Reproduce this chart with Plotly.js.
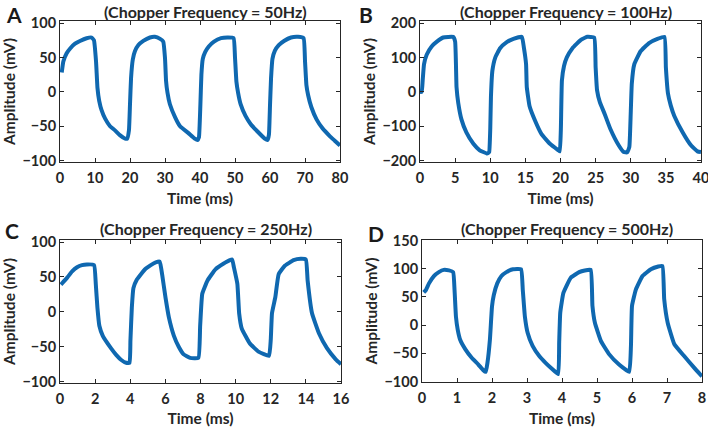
<!DOCTYPE html>
<html>
<head>
<meta charset="utf-8">
<script src="https://cdn.plot.ly/plotly-3.0.1.min.js"></script>
<style>html,body{margin:0;padding:0;background:#fff;}#chart{width:708px;height:427px;}</style>
</head>
<body>
<div id="chart"></div>
<script>
// Panel A: chopper frequency 50 Hz
const tA = [0.5,0.95,1.9,2.9,4.3,5.7,7.6,9.0,9.7,10.3,10.7,11.2,11.9,12.9,14.3,15.7,17.1,18.6,19.2,19.7,20.0,20.3,20.8,21.4,22.4,23.8,25.7,27.1,28.6,29.5,30.0,30.3,30.7,31.4,32.9,34.3,36.7,38.5,39.3,39.7,40.1,40.4,40.8,41.5,42.5,44.0,46.0,48.0,49.6,50.0,50.4,50.9,51.6,53.0,54.5,56.5,58.5,59.3,59.7,60.0,60.3,60.7,61.4,62.5,64.0,66.0,68.0,69.6,70.0,70.4,70.9,71.8,73.3,75.0,77.0,78.5,80.0];
const vA = [28,44,56,63,70,74,78,79,75,44,6,-13,-27,-39,-50,-56,-63,-68,-68,-56,-18,20,47,59,68,74,79,80,77,73,49,16,-1,-18,-37,-50,-60,-68,-70,-66,-20,25,48,58,66,73,78,79,78,50,15,-2,-18,-35,-47,-58,-68,-70,-62,-20,20,48,60,68,74,79,80,78,45,10,-5,-22,-40,-53,-64,-71,-78];
// Panel B: chopper frequency 100 Hz
const tB = [0,0.24,0.38,0.57,0.95,1.66,2.4,3.3,4.7,5.0,5.2,5.45,5.9,6.6,7.6,8.5,9.5,9.7,9.85,10.0,10.1,10.3,10.7,11.4,12.3,13.3,14.5,14.8,15.1,15.2,15.6,16.4,17.3,18.5,19.7,19.9,20.05,20.2,20.5,20.9,21.7,22.9,23.8,24.8,25.0,25.2,25.6,26.3,27.1,28.3,29.0,29.5,29.8,30.0,30.15,30.5,31.4,32.6,33.8,34.8,35.0,35.3,35.7,36.2,37.4,38.6,39.5,40.0];
const vB = [0,0,33,80,108,132,146,158,160,146,14,-33,-80,-118,-151,-170,-179,-178,-175,-108,-14,61,99,127,144,154,160,127,80,14,-42,-85,-123,-151,-170,-173,-110,33,75,100,127,151,160,158,71,5,-30,-65,-108,-156,-175,-176,-160,-60,24,80,118,142,154,160,71,-5,-40,-70,-118,-156,-173,-175];
// Panel C: chopper frequency 250 Hz
const tC = [0.05,0.41,0.69,0.97,1.25,1.53,1.94,2.04,2.13,2.24,2.43,2.65,2.93,3.21,3.49,3.77,3.96,4.01,4.09,4.18,4.37,4.61,4.89,5.17,5.45,5.68,5.82,6.01,6.2,6.48,6.76,7.04,7.41,7.88,7.98,8.1,8.4,8.85,9.3,9.8,9.9,10.1,10.2,10.35,10.8,11.3,11.9,12.0,12.07,12.26,12.45,12.8,13.3,13.7,14.0,14.1,14.35,14.75,15.2,15.7,16.0];
const vC = [39,49,58,64,67,68,67,39,6,-20,-34,-43,-53,-62,-69,-73,-73,-41,6,34,46,54,62,67,71,72,53,20,-8,-34,-50,-61,-66,-66,-20,26,45,61,69,75,64,40,-2,-24,-45,-57,-63,-40,-2,21,54,66,74,76,75,45,-2,-31,-52,-68,-75];
// Panel D: chopper frequency 500 Hz
const tD = [0.05,0.11,0.2,0.34,0.48,0.62,0.77,0.89,0.93,0.97,1.02,1.09,1.24,1.42,1.61,1.75,1.82,1.87,1.94,2.0,2.05,2.15,2.27,2.41,2.6,2.83,2.88,2.94,3.02,3.16,3.35,3.53,3.72,3.89,3.92,3.95,4.04,4.25,4.49,4.65,4.82,4.87,4.94,5.11,5.35,5.63,5.92,5.97,6.0,6.11,6.3,6.54,6.75,6.87,6.92,7.02,7.21,7.49,7.78,8.0];
const vD = [58,62,74,87,94,98,97,94,62,15,-8,-26,-43,-58,-70,-80,-83,-67,-26,33,53,74,87,94,99,99,62,15,-14,-37,-55,-67,-78,-87,-30,22,57,84,94,97,98,34,4,-28,-52,-70,-83,-37,34,63,87,99,104,105,46,4,-34,-55,-76,-91];

const titles = ["(Chopper Frequency = 50Hz)","(Chopper Frequency = 100Hz)","(Chopper Frequency = 250Hz)","(Chopper Frequency = 500Hz)"];
const letters = ["A","B","C","D"];
const xTitle = "Time (ms)";
const yTitle = "Amplitude (mV)";

const W = 708, H = 427;
const FONT = "Lato, 'Open Sans', sans-serif";
const INK = "#262626";
const BLUE = "#0f68b0";

const series = [[tA,vA],[tB,vB],[tC,vC],[tD,vD]];
const boxes = [
  {l:60, r:340, t:21, b:162, xr:[0,80], xt:[0,10,20,30,40,50,60,70,80], yr:[-102,103], yt:[-100,-50,0,50,100], lx:4, ly:14, ty:11},
  {l:420, r:701, t:21, b:162, xr:[0,40], xt:[0,5,10,15,20,25,30,35,40], yr:[-204,206], yt:[-200,-100,0,100,200], lx:357, ly:14, ty:11},
  {l:60, r:341, t:240, b:383, xr:[0,16], xt:[0,2,4,6,8,10,12,14,16], yr:[-102,103], yt:[-100,-50,0,50,100], lx:3, ly:230, ty:228},
  {l:422, r:702, t:240, b:382, xr:[0,8], xt:[0,1,2,3,4,5,6,7,8], yr:[-101,151], yt:[-100,-50,0,50,100,150], lx:366, ly:233, ty:228}
];

const data = [];
const layout = {
  width: W, height: H,
  margin: {l:0, r:0, t:0, b:0},
  paper_bgcolor: "#fff", plot_bgcolor: "#fff",
  showlegend: false,
  font: {family: FONT, color: INK},
  annotations: []
};

boxes.forEach((bx, i) => {
  const n = i === 0 ? "" : String(i + 1);
  data.push({
    x: series[i][0], y: series[i][1],
    xaxis: "x" + n, yaxis: "y" + n,
    type: "scatter", mode: "lines",
    line: {color: BLUE, width: 4, shape: "spline", smoothing: 0.35},
    hoverinfo: "skip"
  });
  const axBase = {
    showline: true, linecolor: INK, linewidth: 1, mirror: "ticks",
    ticks: "inside", ticklen: 4, tickwidth: 1, tickcolor: INK,
    showgrid: false, zeroline: false, ticklabeloverflow: "allow",
    tickfont: {family: FONT, size: 14.5, color: INK, weight: "bold"}
  };
  layout["xaxis" + n] = Object.assign({}, axBase, {
    domain: [bx.l / W, bx.r / W],
    range: bx.xr, tickmode: "array", tickvals: bx.xt,
    anchor: "y" + n, ticklabelstandoff: 3,
    title: {text: xTitle, font: {family: FONT, size: 15.5, color: INK, weight: "bold"}, standoff: 7}
  });
  layout["yaxis" + n] = Object.assign({}, axBase, {
    domain: [1 - bx.b / H, 1 - bx.t / H],
    range: bx.yr, tickmode: "array", tickvals: bx.yt,
    anchor: "x" + n,
    title: {text: yTitle, font: {family: FONT, size: 15.5, color: INK, weight: "bold"}, standoff: 3}
  });
  layout.annotations.push({
    text: "<b>" + titles[i] + "</b>", xref: "paper", yref: "paper",
    x: ((bx.l + bx.r) / 2 + 5) / W, y: 1 - bx.ty / H,
    xanchor: "center", yanchor: "middle", showarrow: false,
    font: {family: FONT, size: 16, color: INK}
  });
  layout.annotations.push({
    text: "<b>" + letters[i] + "</b>", xref: "paper", yref: "paper",
    x: bx.lx / W, y: 1 - bx.ly / H,
    xanchor: "left", yanchor: "middle", showarrow: false,
    font: {family: FONT, size: 21, color: "#1a1a1a"}
  });
});

Plotly.newPlot("chart", data, layout, {staticPlot: true, displayModeBar: false});
</script>
</body>
</html>
